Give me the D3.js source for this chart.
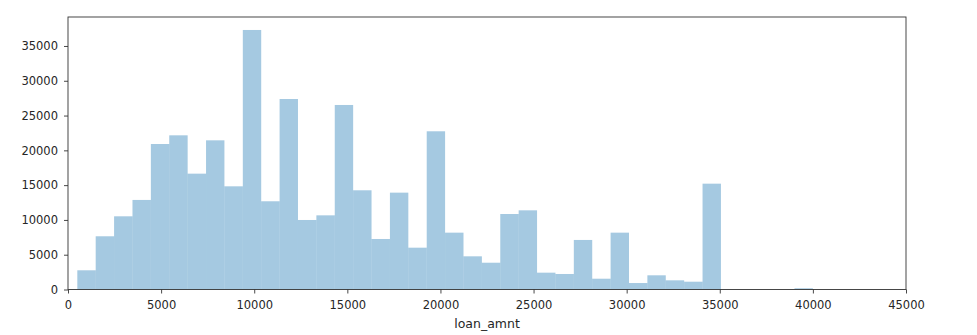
<!DOCTYPE html>
<html>
<head>
<meta charset="utf-8">
<script src="https://cdn.jsdelivr.net/npm/d3@7"></script>
<style>
  body { margin: 0; background: #fff; }
  text { font-family: "DejaVu Sans", sans-serif; }
</style>
</head>
<body>
<div id="chart"></div>
<script>
// histogram of loan_amnt, 40 equal bins between binStart and binEnd
let binStart = 500;
let binEnd = 40000;
let counts = [
    2760, 7650, 10520, 12870, 20910, 22160, 16650, 21440, 14830, 37300,
    12680, 27380, 9990, 10660, 26520, 14260, 7260, 13920, 6010, 22740,
    8170, 4770, 3850, 10850, 11380, 2420, 2230, 7120, 1550, 8170,
    930, 2040, 1320, 1120, 15210, 0, 0, 0, 0, 180
];
let xTicks = [0, 5000, 10000, 15000, 20000, 25000, 30000, 35000, 40000, 45000];
let yTicks = [0, 5000, 10000, 15000, 20000, 25000, 30000, 35000];
let xLabel = 'loan_amnt';

let width = 977;
let height = 335;
let margin = { top: 17, right: 71, bottom: 45.5, left: 68 };

let svg = d3.select('#chart')
    .append('svg')
    .attr('width', width)
    .attr('height', height);

let x = d3.scaleLinear()
    .domain([0, 45000])
    .range([margin.left, width - margin.right]);

let y = d3.scaleLinear()
    .domain([0, d3.max(counts) * 1.05])
    .range([height - margin.bottom, margin.top]);

let binWidth = (binEnd - binStart) / counts.length;
let bins = counts.map((c, i) => ({
    x0: binStart + i * binWidth,
    x1: binStart + (i + 1) * binWidth,
    count: c
}));

// bars
svg.append('g')
    .selectAll('rect')
    .data(bins.filter(b => b.count > 0))
    .join('rect')
    .attr('x', d => x(d.x0))
    .attr('width', d => x(d.x1) - x(d.x0))
    .attr('y', d => y(d.count))
    .attr('height', d => y(0) - y(d.count))
    .attr('fill', '#1f77b4')
    .attr('fill-opacity', 0.4);

// axes
let xAxis = svg.append('g')
    .attr('transform', `translate(0,${y(0)})`)
    .call(d3.axisBottom(x).tickValues(xTicks).tickSize(4).tickPadding(7.5).tickFormat(d3.format('d')));

let yAxis = svg.append('g')
    .attr('transform', `translate(${margin.left},0)`)
    .call(d3.axisLeft(y).tickValues(yTicks).tickSize(4).tickPadding(6).tickFormat(d3.format('d')));

[xAxis, yAxis].forEach(a => {
    a.select('.domain').remove();
    a.selectAll('.tick line').attr('stroke', '#333').attr('stroke-width', 0.9);
    a.selectAll('.tick text').attr('fill', '#262626').style('font-size', '11.5px');
});

// frame
svg.append('rect')
    .attr('x', margin.left)
    .attr('y', margin.top)
    .attr('width', width - margin.left - margin.right)
    .attr('height', y(0) - margin.top)
    .attr('fill', 'none')
    .attr('stroke', '#333')
    .attr('stroke-width', 0.9);

svg.append('text')
    .attr('x', (margin.left + width - margin.right) / 2)
    .attr('y', 328)
    .attr('text-anchor', 'middle')
    .attr('fill', '#262626')
    .style('font-size', '12.5px')
    .text(xLabel);
</script>
</body>
</html>
